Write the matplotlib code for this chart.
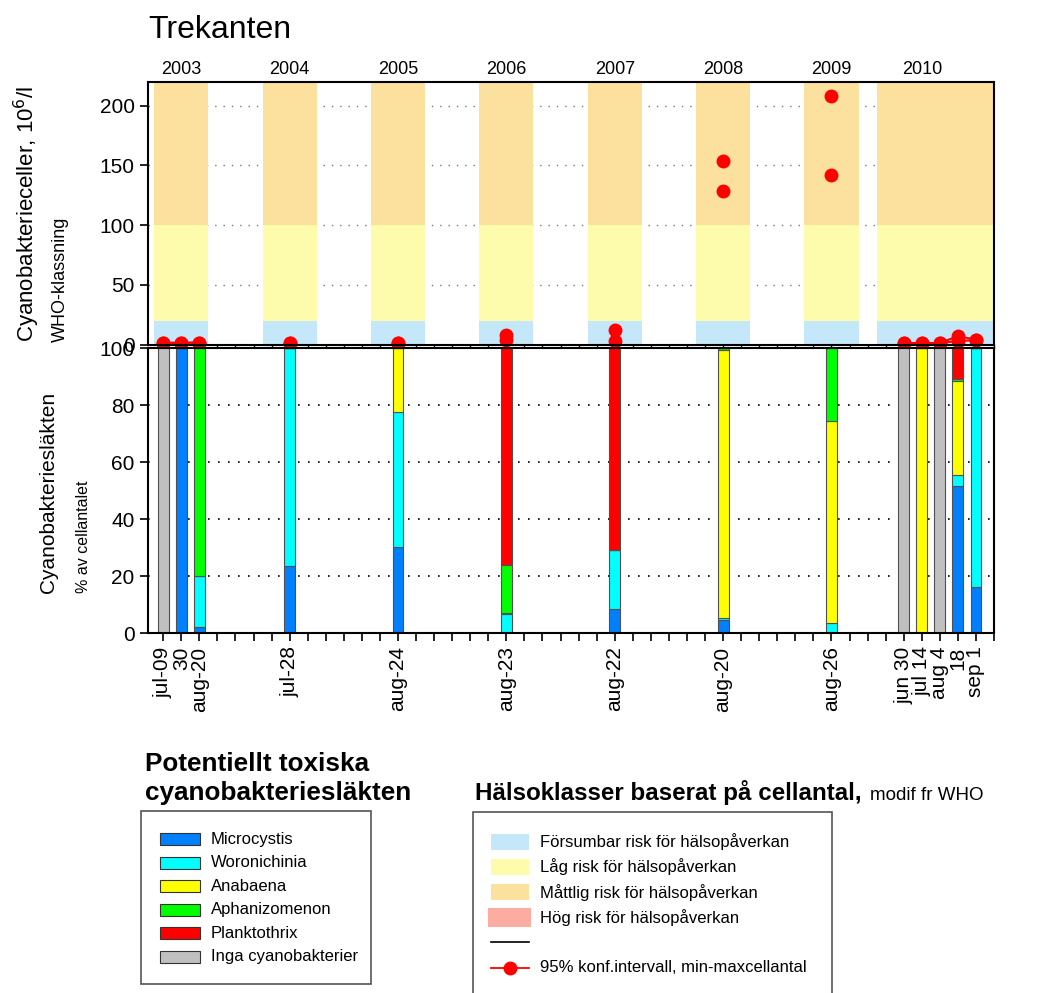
import numpy as np
import matplotlib
matplotlib.use('Agg')
import matplotlib.pyplot as plt
from matplotlib.patches import Rectangle
from matplotlib.lines import Line2D

plt.rcParams['font.family'] = ['Liberation Sans', 'DejaVu Sans']

# --- data -----------------------------------------------------------------
slots = [0, 1, 2, 7, 13, 19, 25, 31, 37, 41, 42, 43, 44, 45]
years = [2003, 2003, 2003, 2004, 2005, 2006, 2007, 2008, 2009, 2010, 2010, 2010, 2010, 2010]
date_labels = ['jul-09', '30', 'aug-20', 'jul-28', 'aug-24', 'aug-23', 'aug-22',
               'aug-20', 'aug-26', 'jun 30', 'jul 14', 'aug 4', '18', 'sep 1']

# genus share, % of cell count
microcystis   = [0, 100, 2.3, 23.6, 30.4, 0,    8.6,  4.7,  0,    0,   0,   0,   51.8, 16.2]
woronichinia  = [0, 0,   17.9, 76.4, 47.4, 6.7, 20.5, 0.7,  3.5,  0,   0,   0,   3.9,  83.8]
anabaena      = [0, 0,   0,    0,    22.2, 0.5, 0,    94.0, 70.9, 0,   100, 0,   32.8, 0]
aphanizomenon = [0, 0,   79.8, 0,    0,    16.6, 0,   0.6,  25.6, 0,   0,   0,   0.8,  0]
planktothrix  = [0, 0,   0,    0,    0,    76.2, 70.9, 0,   0,    0,   0,   0,   10.7, 0]
inga          = [100, 0, 0,    0,    0,    0,   0,    0,    0,    100, 0,   100, 0,    0]

# cell counts 10^6/l, min and max
cell_max = [1.4, 1.4, 1.6, 1.4, 1.4, 8.0, 12.5, 153.5, 208.0, 1.2, 1.2, 1.2, 7.0, 4.0]
cell_min = [1.4, 1.4, 1.6, 1.4, 1.4, 4.0, 2.8, 128.4, 141.5, 1.2, 1.2, 1.2, 3.0, 3.5]

band_years = ['2003', '2004', '2005', '2006', '2007', '2008', '2009', '2010']
band_left = [-0.5, 5.5, 11.5, 17.5, 23.5, 29.5, 35.5, 39.5]
band_right = [2.5, 8.5, 14.5, 20.5, 26.5, 32.5, 38.5, 46.0]
year_label_x = [1, 7, 13, 19, 25, 31, 37, 42]

who_limits = [0, 20, 100, 220]
who_colors = ['#c4e8fa', '#fcfcac', '#fce09e']

genera = ['Microcystis', 'Woronichinia', 'Anabaena', 'Aphanizomenon', 'Planktothrix', 'Inga cyanobakterier']
genus_colors = ['#0080ff', '#00ffff', '#ffff00', '#00ff00', '#ff0000', '#c0c0c0']
genus_values = [microcystis, woronichinia, anabaena, aphanizomenon, planktothrix, inga]

risk_labels = ['Försumbar risk för hälsopåverkan', 'Låg risk för hälsopåverkan',
               'Måttlig risk för hälsopåverkan', 'Hög risk för hälsopåverkan']
risk_colors = ['#c4e8fa', '#fcfcac', '#fce09e', '#fcaca0']

W, H = 1040, 993
def fx(px):
    return px / W
def fy(py):
    return 1 - py / H

fig = plt.figure(figsize=(W / 100, H / 100), dpi=100)
ax1 = fig.add_axes([fx(147.7), fy(344.5), fx(994) - fx(147.7), fy(81.7) - fy(344.5)])
ax2 = fig.add_axes([fx(147.7), fy(633.3), fx(994) - fx(147.7), fy(348.3) - fy(633.3)])
xlim = (-0.86, 46.0)

# --- top panel: WHO classes + cell counts ----------------------------------
ax1.set_xlim(*xlim)
ax1.set_ylim(0, 220)
ax1.set_axisbelow(True)
ax1.yaxis.grid(True, linestyle=(0, (1, 5)), color='#777777', lw=1.0)
for l, r in zip(band_left, band_right):
    for k in range(3):
        ax1.fill_between([l, r], who_limits[k], who_limits[k + 1], color=who_colors[k], lw=0, zorder=1)
for yl, xp in zip(band_years, year_label_x):
    ax1.text(xp, 223, yl, ha='center', va='bottom', fontsize=13)

years_arr = np.array(years)
for yr in sorted(set(years)):
    idx = np.where(years_arr == yr)[0]
    xs = [slots[i] for i in idx]
    ax1.plot(xs, [cell_min[i] for i in idx], 'o-', color='red', ms=9, lw=1.5, clip_on=False, zorder=6)
    ax1.plot(xs, [cell_max[i] for i in idx], 'o-', color='red', ms=9, lw=1.5, clip_on=False, zorder=6)

ax1.set_yticks([0, 50, 100, 150, 200])
ax1.set_xticks(range(0, 47))
ax1.tick_params(axis='x', labelbottom=False, length=3, direction='out', width=1)
ax1.tick_params(axis='y', labelsize=15, length=6, width=1.2)
for s in ax1.spines.values():
    s.set_linewidth(1.5)
    s.set_zorder(7)

# --- bottom panel: genus composition ----------------------------------------
ax2.set_xlim(*xlim)
ax2.set_ylim(0, 100)
ax2.set_axisbelow(True)
ax2.yaxis.grid(True, linestyle=(0, (1, 5)), color='black', lw=1.2)
bottom = np.zeros(len(slots))
for vals, col in zip(genus_values, genus_colors):
    v = np.array(vals, dtype=float)
    ax2.bar(slots, v, width=0.6, bottom=bottom, color=col, edgecolor='#505050', lw=0.8, zorder=2)
    bottom += v

ax2.set_yticks([0, 20, 40, 60, 80, 100])
tick_lab = [''] * 47
for s, lab in zip(slots, date_labels):
    tick_lab[s] = lab
ax2.set_xticks(range(0, 47))
ax2.set_xticklabels(tick_lab, rotation=90, fontsize=15)
ax2.tick_params(axis='x', length=6, width=1.2)
ax2.tick_params(axis='y', labelsize=15, length=6, width=1.2)
for s in ax2.spines.values():
    s.set_linewidth(1.5)

# --- titles and axis labels -------------------------------------------------
fig.text(fx(148), fy(38), 'Trekanten', fontsize=23, ha='left', va='baseline')
fig.text(fx(27), fy(342), 'Cyanobakterieceller, 10$^{6}$/l', rotation=90, fontsize=16, ha='center', va='bottom')
fig.text(fx(60), fy(342), 'WHO-klassning', rotation=90, fontsize=13, ha='center', va='bottom')
fig.text(fx(49), fy(492), 'Cyanobakteriesläkten', rotation=90, fontsize=15, ha='center', va='center')
fig.text(fx(83), fy(593), '% av cellantalet', rotation=90, fontsize=11.5, ha='center', va='bottom')

# --- legend: genera ---------------------------------------------------------
fig.text(fx(145), fy(771), 'Potentiellt toxiska', fontsize=18.8, fontweight='bold', va='baseline')
fig.text(fx(145), fy(800), 'cyanobakteriesläkten', fontsize=18.8, fontweight='bold', va='baseline')
fig.add_artist(Rectangle((fx(141), fy(984)), fx(371) - fx(141), fy(811) - fy(984),
                         transform=fig.transFigure, fill=False, ec='#555555', lw=1.2))
for i, (lab, col) in enumerate(zip(genera, genus_colors)):
    yc = 839.3 + i * 23.5
    fig.add_artist(Rectangle((fx(160), fy(yc + 6)), fx(200) - fx(160), fy(yc - 6) - fy(yc + 6),
                             transform=fig.transFigure, fc=col, ec='#333333', lw=0.8))
    fig.text(fx(211), fy(yc), lab, fontsize=12, va='center')

# --- legend: WHO health classes ---------------------------------------------
fig.text(fx(475), fy(800), 'Hälsoklasser baserat på cellantal,', fontsize=17.4, fontweight='bold', va='baseline')
fig.text(fx(870), fy(800), 'modif fr WHO', fontsize=13.5, va='baseline')
fig.add_artist(Rectangle((fx(473), fy(1000)), fx(832) - fx(473), fy(812) - fy(1000),
                         transform=fig.transFigure, fill=False, ec='#555555', lw=1.2))
for i, (lab, col) in enumerate(zip(risk_labels, risk_colors)):
    yc = 841.7 + i * 25.3
    h = 19 if i == 3 else 16
    x0, x1 = (488, 531) if i == 3 else (491, 529)
    fig.add_artist(Rectangle((fx(x0), fy(yc + h / 2)), fx(x1) - fx(x0), fy(yc - h / 2) - fy(yc + h / 2),
                             transform=fig.transFigure, fc=col, ec='none'))
    fig.text(fx(540), fy(yc), lab, fontsize=12, va='center')
fig.add_artist(Line2D([fx(491), fx(529)], [fy(942.3), fy(942.3)], transform=fig.transFigure, color='black', lw=1.2))
fig.add_artist(Line2D([fx(491), fx(529)], [fy(967.7), fy(967.7)], transform=fig.transFigure, color='red', lw=1.3))
fig.add_artist(Line2D([fx(510)], [fy(967.7)], transform=fig.transFigure, color='red', marker='o', ms=9))
fig.text(fx(540), fy(967.7), '95% konf.intervall, min-maxcellantal', fontsize=12, va='center')

fig.savefig('out.png', dpi=100)
